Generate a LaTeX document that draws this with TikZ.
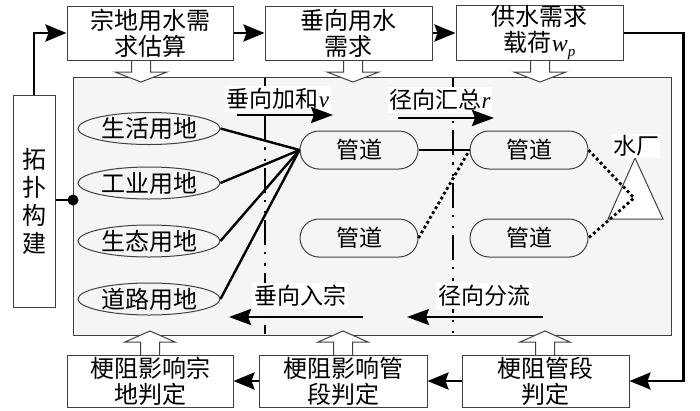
\documentclass[tikz,border=0pt]{standalone}
\usepackage{fontspec}
\setmainfont{Liberation Serif}
\newfontfamily\cjk{Noto Sans CJK SC}
\usetikzlibrary{arrows.meta,shapes.geometric,shapes.misc}
\tikzset{
  box/.style={draw=black!75, line width=1pt, fill=white, align=center, inner sep=0pt,
    minimum height=54pt, font=\cjk\fontsize{24}{26}\selectfont},
  oval/.style={ellipse, draw=black!75, line width=1pt, inner sep=0pt,
    minimum width=142pt, minimum height=32pt, font=\cjk\fontsize{24}{26}\selectfont},
  pipe/.style={rounded rectangle, draw=black!75, line width=1pt, inner sep=0pt,
    minimum width=118pt, minimum height=38pt, font=\cjk\fontsize{23}{26}\selectfont},
  lab/.style={fill=white, inner sep=2pt, font=\cjk\fontsize{23}{26}\selectfont},
  conn/.style={line width=2.8pt, -{Stealth[length=21pt,width=17pt,inset=3pt]}},
  flow/.style={line width=2.8pt, -{Stealth[length=22pt,width=16pt,inset=3pt]}},
  solidln/.style={line width=2.4pt},
  dotln/.style={line width=2.8pt, dash pattern=on 2.8pt off 2.8pt},
  dashdotln/.style={line width=2.2pt, dash pattern=on 25pt off 7pt on 2.2pt off 9pt on 2.2pt off 7pt},
  hollow/.style={draw=black!75, line width=1pt, fill=white},
}
\newcommand\harrowdn[1]{\draw[hollow] (#1,60) ++(-9.5,0) -- ++(0,12) -- ++(-16.5,0) -- ++(26,10) -- ++(26,-10) -- ++(-16.5,0) -- ++(0,-12);}
\newcommand\harrowup[1]{\draw[hollow] (#1,355) ++(-9.5,0) -- ++(0,-13) -- ++(-15.5,0) -- ++(25,-11) -- ++(25,11) -- ++(-15.5,0) -- ++(0,13);}
\begin{document}
\begin{tikzpicture}[x=1pt,y=-1pt]
\useasboundingbox (0,0) rectangle (700,410);
% panel
\node[draw=black!75, line width=1pt, fill=black!4, minimum width=598pt, minimum height=258pt, inner sep=0pt] (panel) at (372,206) {};
% hollow arrows
\harrowdn{141}
\harrowdn{353}
\harrowdn{540}
\harrowup{150}
\harrowup{343}
\harrowup{545}
% dash-dot separators
\draw[dashdotln, dash phase=15pt] (265,78) -- (265,334);
\draw[dashdotln] (453,78) -- (453,334);
% top boxes
\node[box, minimum width=166pt] (b1) at (150,33) {宗地用水需\\求估算};
\node[box, minimum width=167pt] (b2) at (348.5,33) {垂向用水\\需求};
\node[box, minimum width=167pt] (b3) at (539.5,33) {供水需求\\载荷{\rmfamily\itshape w}\raisebox{-5pt}{\fontsize{15}{15}\selectfont\rmfamily\itshape p}};
% bottom boxes
\node[box, minimum width=166pt, minimum height=52pt] (c1) at (150,381) {梗阻影响宗\\地判定};
\node[box, minimum width=168pt, minimum height=52pt] (c2) at (343,381) {梗阻影响管\\段判定};
\node[box, minimum width=167pt, minimum height=52pt] (c3) at (545.5,381) {梗阻管段\\判定};
% topology box
\node[box, minimum width=42pt, minimum height=212pt, font=\cjk\fontsize{24}{28}\selectfont] (topo) at (34,201) {拓\\扑\\构\\建};
% labels
\node[lab] (lv) at (278,99) {垂向加和{\rmfamily\itshape v}};
\node[lab] (lr) at (440,100) {径向汇总{\rmfamily\itshape r}};
\node[lab] (lin) at (300,296) {垂向入宗};
\node[lab] (lout) at (484,296) {径向分流};
\coordinate (av1) at (237,115); \coordinate (av2) at (333,115);
\coordinate (ar1) at (398,118); \coordinate (ar2) at (494,118);
\coordinate (ai1) at (363,317); \coordinate (ai2) at (229,317);
\coordinate (ao1) at (543,317); \coordinate (ao2) at (407,317);
\draw[flow] (av1) -- (av2);
\draw[flow] (ar1) -- (ar2);
\draw[flow] (ai1) -- (ai2);
\draw[flow] (ao1) -- (ao2);
% land-use ellipses
\node[oval] (e1) at (149,128.5) {生活用地};
\node[oval] (e2) at (149,183) {工业用地};
\node[oval] (e3) at (149,241) {生态用地};
\node[oval] (e4) at (149,299) {道路用地};
% pipes
\node[pipe] (p1) at (359,150) {管道};
\node[pipe] (p2) at (529,150) {管道};
\node[pipe] (p3) at (359,238) {管道};
\node[pipe] (p4) at (529,238) {管道};
% water plant
\draw[draw=black!75, line width=1pt, fill=white] (635,158) -- (663,219) -- (608,219) -- cycle;
\node[lab, inner sep=1pt] (wl) at (636,146) {水厂};
\coordinate (bend) at (634,198);
% connections
\foreach \e in {e1,e2,e3,e4} \draw[solidln] (\e.east) -- (p1.west);
\draw[solidln] (p1.east) -- (p2.west);
\draw[dotln] (p3.east) -- (p2.west);
\draw[dotln] (p2.east) -- (bend) -- (p4.east);
% process flow
\draw[conn] (topo.north) |- (b1.west);
\draw[conn] (b1.east) -- (b2.west);
\draw[conn] (b2.east) -- (b3.west);
\draw[conn] (b3.east) -- ++(60,0) |- (c3.east);
\draw[conn] (c3.west) -- (c2.east);
\draw[conn] (c2.west) -- (c1.east);
\coordinate (dot) at (73,200);
\draw[line width=2.4pt] (topo.east |- dot) -- (dot);
\fill (dot) circle (5.5pt);
\end{tikzpicture}
\end{document}
